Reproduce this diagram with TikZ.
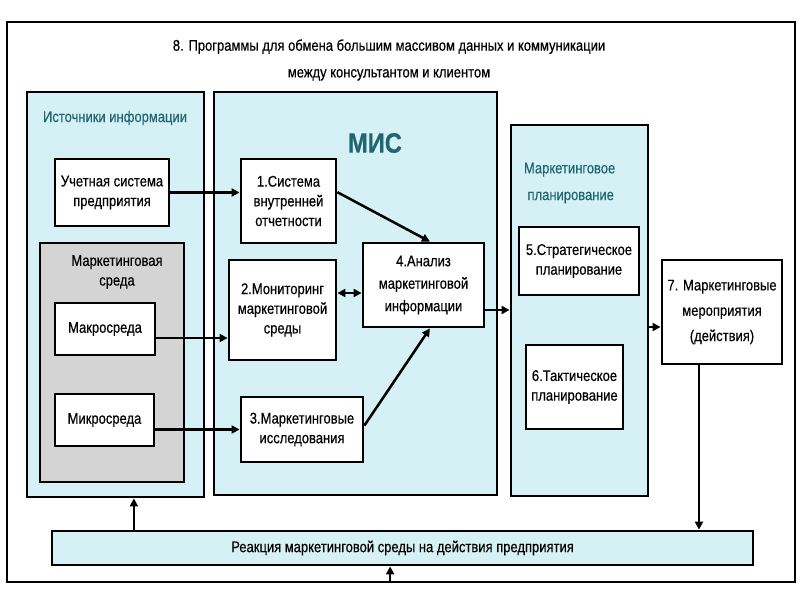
\documentclass[tikz,border=0pt]{standalone}
\usepackage{fontspec}
\setmainfont{Liberation Sans}[FakeStretch=0.84, FakeBold=0.4]
\usetikzlibrary{arrows.meta,positioning}
\definecolor{panelfill}{HTML}{D6F1F5}
\definecolor{envfill}{HTML}{D4D4D4}
\definecolor{labelteal}{HTML}{1F6670}

\begin{document}
\begin{tikzpicture}[
  x=0.25mm, y=-0.25mm,
  panel/.style={draw, fill=panelfill, line width=2pt, inner sep=0pt},
  box/.style={draw, fill=white, line width=2pt, inner sep=1pt, align=center,
              font=\fontsize{11}{14}\selectfont},
  head/.style={text=labelteal, align=center, font=\fontsize{11}{19}\selectfont},
  arr/.style={-{Triangle[length=2mm, width=2mm]}, line width=1.8pt},
  dbl/.style={{Triangle[length=2mm, width=2mm]}-{Triangle[length=2mm, width=2mm]}, line width=1.8pt}
]
\useasboundingbox (0,0) rectangle (800,600);
\node[draw, line width=2pt, minimum width=197mm, minimum height=140mm, inner sep=0pt] (frame) at (401,302) {};
\node[align=center, font=\fontsize{11}{19}\selectfont] (title) at (389,60)
  {8. Программы для обмена большим массивом данных и коммуникации\\между консультантом и клиентом};

\node[panel, minimum width=44.25mm, minimum height=101.25mm] (src) at (115.5,294.5) {};
\node[head] (srclbl) at (115,118) {Источники информации};
\node[box, minimum width=28.5mm, minimum height=16.75mm] (acc) at (112,192.5) {Учетная система\\предприятия};
\node[panel, fill=envfill, minimum width=36mm, minimum height=59.75mm] (env) at (112,362.5) {};
\node[align=center, font=\fontsize{11}{14}\selectfont] (envlbl) at (117,272) {Маркетинговая\\среда};
\node[box, minimum width=25mm, minimum height=13mm] (macro) at (105,329) {Макросреда};
\node[box, minimum width=24.75mm, minimum height=13mm] (micro) at (104.5,420) {Микросреда};

\node[panel, minimum width=70.75mm, minimum height=100.75mm] (mis) at (355.5,293.5) {};
\node[text=labelteal, font=\fontsize{20}{24}\selectfont\bfseries] (mislbl) at (375,143) {МИС};
\node[box, minimum width=23.75mm, minimum height=21mm] (b1) at (288.5,201) {1.Система\\внутренней\\отчетности};
\node[box, minimum width=26.75mm, minimum height=25mm] (b2) at (282.5,310) {2.Мониторинг\\маркетинговой\\среды};
\node[box, minimum width=30.5mm, minimum height=16.25mm] (b3) at (302,429.5) {3.Маркетинговые\\исследования};
\node[box, minimum width=30.25mm, minimum height=21mm, font=\fontsize{11}{16}\selectfont] (b4) at (423.5,285) {4.Анализ\\маркетинговой\\информации};

\node[panel, minimum width=34.25mm, minimum height=92.75mm] (plan) at (579.5,310.5) {};
\node[head, anchor=west, align=left] (planlbl) at (519,183) {Маркетинговое\\\ планирование};
\node[box, minimum width=30mm, minimum height=17mm] (b5) at (579,261) {5.Стратегическое\\планирование};
\node[box, minimum width=24.25mm, minimum height=21mm] (b6) at (574.5,387) {6.Тактическое\\планирование};

\node[box, minimum width=30mm, minimum height=26mm, font=\fontsize{11}{18}\selectfont] (b7) at (722,312) {7. Маркетинговые\\мероприятия\\(действия)};
\node[box, fill=panelfill, minimum width=175.25mm, minimum height=8.5mm] (react) at (402.5,548) {Реакция маркетинговой среды на действия предприятия};

\coordinate (m1) at ([yshift=-2.25mm]macro.east);
\coordinate (m4) at ([yshift=-2mm]b4.west);
\coordinate (m5) at ([yshift=-6.25mm]b4.east);
\coordinate (m7) at ([yshift=-3.75mm]b7.west);
\coordinate (d7) at ([xshift=-5.75mm]b7.south);
\coordinate (up) at ([xshift=4.6mm]src.south);
\coordinate (bot) at ([xshift=-3.1mm]react.south);

\draw[arr] (acc.east) -- (acc.east -| b1.west);
\draw[arr] ([yshift=2.2mm]b1.east) -- ([xshift=1.6mm]b4.north);
\draw[dbl] (m4 -| b2.east) -- (m4);
\draw[arr] (m1) -- (m1 -| b2.west);
\draw[arr] (b3.west -| micro.east) -- (b3.west);
\draw[arr] ([yshift=1mm]b3.east) -- ([xshift=1.6mm]b4.south);
\draw[arr] (m5) -- (m5 -| plan.west);
\draw[arr] (m7 -| plan.east) -- (m7);
\draw[arr] (d7) -- (d7 |- react.north);
\draw[arr] (up |- react.north) -- (up);
\draw[arr] (bot |- frame.south) -- (bot);
\end{tikzpicture}
\end{document}
